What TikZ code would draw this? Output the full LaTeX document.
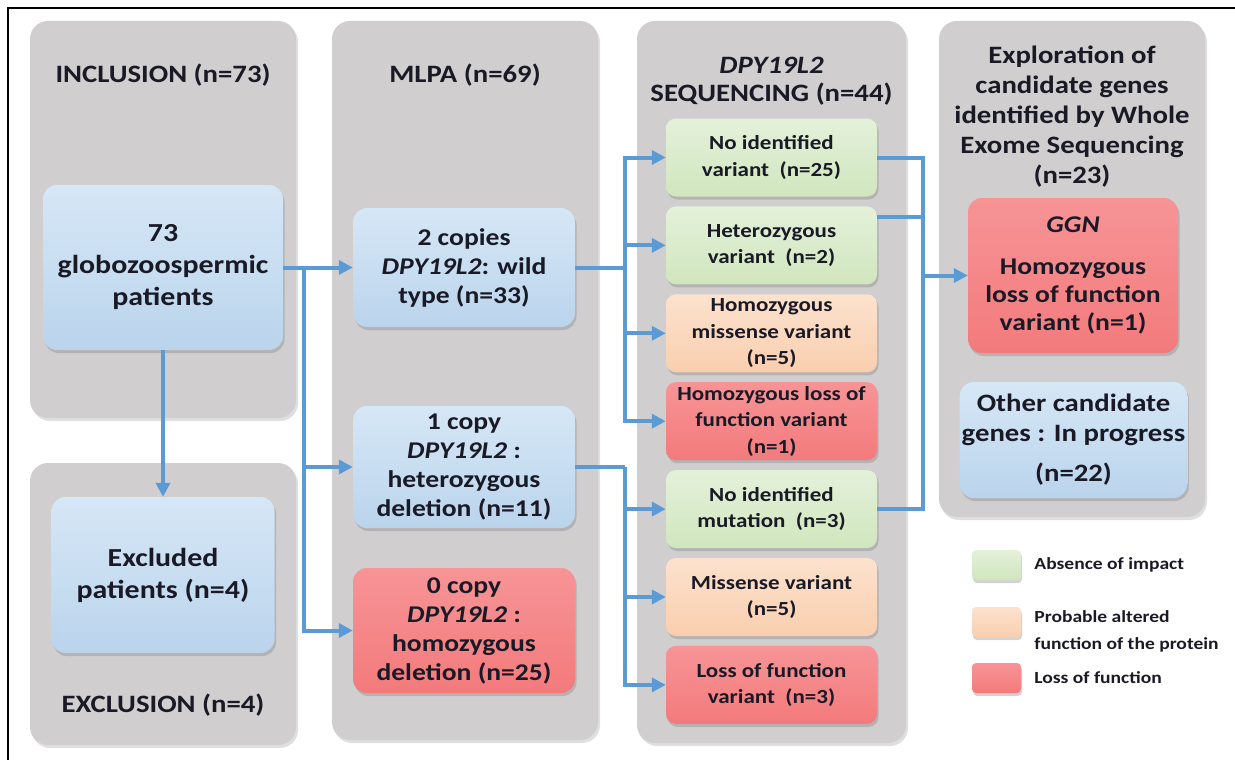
\documentclass[tikz,border=0pt]{standalone}
\usepackage{fontspec}
\setmainfont{Carlito}[FakeStretch=1.15]
\usetikzlibrary{positioning,shadows,arrows.meta}
\definecolor{panelgray}{RGB}{208,206,206}
\definecolor{ink}{RGB}{26,26,38}
\definecolor{bluefill}{RGB}{186,212,236}
\definecolor{bluetop}{RGB}{214,231,246}
\definecolor{greenfill}{RGB}{208,230,190}
\definecolor{greentop}{RGB}{228,241,218}
\definecolor{peachfill}{RGB}{249,206,174}
\definecolor{peachtop}{RGB}{252,226,206}
\definecolor{redfill}{RGB}{243,122,124}
\definecolor{redtop}{RGB}{247,148,150}
\definecolor{linkblue}{RGB}{91,155,213}

\begin{document}
\begin{tikzpicture}[x=1pt,y=-1pt,
    panel/.style={fill=panelgray,rounded corners=18pt,
      drop shadow={shadow xshift=2pt,shadow yshift=-3pt,opacity=0.25}},
    title/.style={text=ink,font=\fontsize{25}{30}\selectfont\bfseries,align=center},
    box/.style={rounded corners=14pt,text=ink,align=center,inner sep=2pt,
      drop shadow={shadow xshift=1.5pt,shadow yshift=-3pt,opacity=0.35}},
    bluebox/.style={box,top color=bluetop,bottom color=bluefill},
    greenbox/.style={box,top color=greentop,bottom color=greenfill},
    peachbox/.style={box,top color=peachtop,bottom color=peachfill},
    redbox/.style={box,top color=redtop,bottom color=redfill},
    big/.style={font=\fontsize{26}{32}\selectfont\bfseries},
    mid/.style={font=\fontsize{24}{29}\selectfont\bfseries},
    small/.style={font=\fontsize{20}{26.5}\selectfont\bfseries,
      minimum width=211pt,minimum height=78pt,rounded corners=10pt},
    swatch/.style={rounded corners=4pt,minimum width=49pt,minimum height=30pt,
      drop shadow={shadow xshift=1pt,shadow yshift=-3pt,opacity=0.35}},
    legtxt/.style={text=ink,font=\fontsize{17}{27}\selectfont\bfseries,align=left,inner sep=0pt},
    link/.style={draw=linkblue,line width=4pt},
    flow/.style={link,-{Triangle[length=14pt,width=14pt]}}]
  \useasboundingbox (0,0) rectangle (1235,760);
  % frame
  \draw[line width=1.5pt] (8,760) -- (8,8) -- (1235,8);
  % panels
  \fill[panel] (30,21) rectangle (296,418);
  \fill[panel] (30,463) rectangle (296,745);
  \fill[panel] (332,21) rectangle (598,740);
  \fill[panel] (637,21) rectangle (906,743);
  \fill[panel] (939,21) rectangle (1205,517);
  \node[title] (tinc) at (163,75) {INCLUSION (n=73)};
  \node[title] (texc) at (163,705) {EXCLUSION (n=4)};
  \node[title] (tmlpa) at (465,75) {MLPA (n=69)};
  \node[title,font=\fontsize{25}{28}\selectfont\bfseries] (tseq) at (771.5,81) {\textit{DPY19L2}\\SEQUENCING (n=44)};
  \node[title] (twes) at (1072,117) {Exploration of\\candidate genes\\identified by Whole\\Exome Sequencing\\(n=23)};
  % first columns
  \node[bluebox,big,minimum width=240pt,minimum height=165pt] (pat) at (163,267.5) {73\\globozoospermic\\patients};
  \node[bluebox,big,minimum width=223pt,minimum height=156pt] (exc) at (163,575) {Excluded\\patients (n=4)};
  \node[bluebox,mid,minimum width=222pt,minimum height=119pt] (cp2) at (464,267.5) {2 copies\\\textit{DPY19L2}: wild\\type (n=33)};
  \node[bluebox,mid,minimum width=222pt,minimum height=122pt] (cp1) at (464,467) {1 copy\\\textit{DPY19L2} :\\heterozygous\\deletion (n=11)};
  \node[redbox,mid,minimum width=222pt,minimum height=125pt] (cp0) at (464,630.5) {0 copy\\\textit{DPY19L2} :\\homozygous\\deletion (n=25)};
  % sequencing results
  \node[greenbox,small] (s1) at (771.5,157.5) {No identified\\variant\ \ (n=25)};
  \node[greenbox,small,below=9.5pt of s1] (s2) {Heterozygous\\variant\ \ (n=2)};
  \node[peachbox,small,below=9.5pt of s2] (s3) {Homozygous\\missense variant\\(n=5)};
  \node[redbox,small,below=9.5pt of s3] (s4) {Homozygous loss of\\function variant\\(n=1)};
  \node[greenbox,small,below=9.5pt of s4] (s5) {No identified\\mutation\ \ (n=3)};
  \node[peachbox,small,below=9.5pt of s5] (s6) {Missense variant\\(n=5)};
  \node[redbox,small,below=9.5pt of s6] (s7) {Loss of function\\variant\ \ (n=3)};
  % exome
  \node[redbox,font=\fontsize{24}{28}\selectfont\bfseries,minimum width=210pt,minimum height=155pt] (ggn) at (1073,275.5) {\textit{GGN}\\[14pt]Homozygous\\loss of function\\variant (n=1)};
  \node[bluebox,font=\fontsize{25}{30}\selectfont\bfseries,minimum width=227pt,minimum height=116pt] (oth) at (1073.5,440) {Other candidate\\genes : In progress\\[10pt](n=22)};
  % legend
  \node[swatch,top color=greentop,bottom color=greenfill] (lg1) at (996.5,565) {};
  \node[swatch,top color=peachtop,bottom color=peachfill] (lg2) at (996.5,622) {};
  \node[swatch,top color=redtop,bottom color=redfill] (lg3) at (996.5,678) {};
  \node[legtxt,right=13pt of lg1] (lt1) {Absence of impact};
  \node[legtxt,right=13pt of lg2,yshift=-9pt] (lt2) {Probable altered\\function of the protein};
  \node[legtxt,right=13pt of lg3] (lt3) {Loss of function};
  % connectors
  \coordinate (jA) at ([xshift=21pt]pat.east);
  \coordinate (jB) at ([xshift=50pt]cp2.east);
  \coordinate (jC) at ([xshift=50pt]cp1.east);
  \coordinate (rx) at ([xshift=46pt]s1.east);
  \coordinate (jD) at (rx |- ggn.west);
  \draw[flow] (pat.east) -- (cp2.west);
  \draw[flow] (jA) |- (cp1.west);
  \draw[flow] (jA) |- (cp0.west);
  \draw[flow] (pat.south) -- (exc.north);
  \draw[link] (cp2.east) -- (jB);
  \draw[flow] (jB) |- (s1.west);
  \draw[flow] (jB) |- (s2.west);
  \draw[flow] (jB) |- (s3.west);
  \draw[flow] (jB) |- (s4.west);
  \draw[link] (cp1.east) -- (jC);
  \draw[flow] (jC) |- (s5.west);
  \draw[flow] (jC) |- (s6.west);
  \draw[flow] (jC) |- (s7.west);
  \draw[link] (s1.east) -| (jD);
  \draw[link] ([yshift=28pt]s2.east) -| (jD);
  \draw[link] (s5.east) -| (jD);
  \draw[flow] (jD) -- (ggn.west);
\end{tikzpicture}
\end{document}
